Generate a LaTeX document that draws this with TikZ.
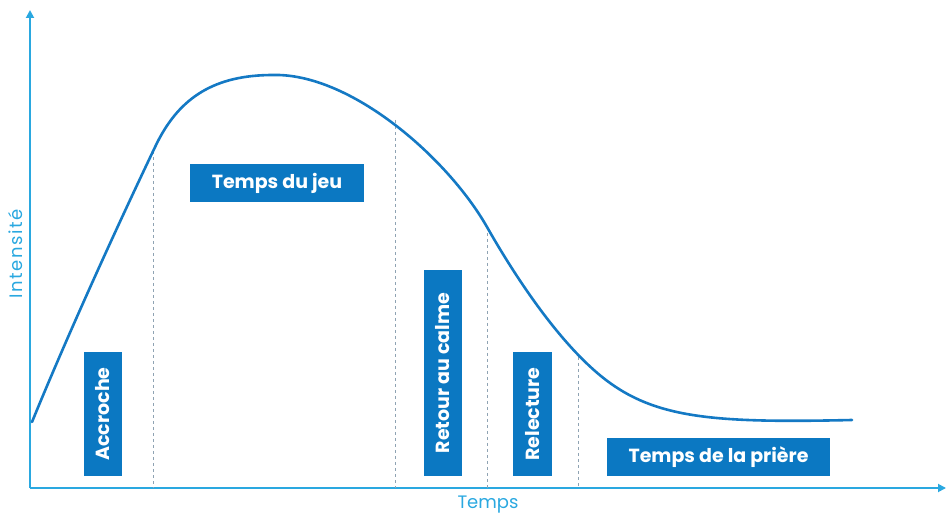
\documentclass[tikz,border=0pt]{standalone}
\usepackage{fontspec}
\setmainfont{Poppins}
\usetikzlibrary{arrows.meta}
\definecolor{axisblue}{HTML}{2AA8E0}
\definecolor{curveblue}{HTML}{1479C4}
\definecolor{boxblue}{HTML}{0B78C2}
\definecolor{dashgray}{HTML}{8FA3B3}
\tikzset{
  axisline/.style={draw=axisblue, line width=1.8pt, -{Triangle[length=8pt,width=8pt]}},
  curveline/.style={draw=curveblue, line width=2.6pt, line cap=round},
  guideline/.style={draw=dashgray, line width=0.6pt, dash pattern=on 3pt off 3pt},
  phasebox/.style={fill=boxblue, text=white, font=\bfseries\fontsize{19}{22}\selectfont, inner sep=0pt, minimum height=38pt, align=center},
  axislabel/.style={text=axisblue, font=\fontsize{18}{20}\selectfont, inner sep=0pt}
}
\begin{document}
\begin{tikzpicture}[x=1pt,y=1pt]
\useasboundingbox (0,0) rectangle (948,517);
% axes
\coordinate (O) at (30,29);
\coordinate (Ytop) at (30,507);
\coordinate (Xend) at (946,29);
\draw[axisline] (O) -- (Ytop);
\draw[axisline] (O) -- (Xend);
\node[axislabel, rotate=90] (ylab) at (15.5,263) {\addfontfeature{LetterSpace=9}Intensité};
\node[axislabel] (xlab) at (488,12) {Temps};
% guide lines
\coordinate (g1t) at (153,366); \coordinate (g1b) at (153,29);
\coordinate (g2t) at (395,397); \coordinate (g2b) at (395,29);
\coordinate (g3t) at (487,290); \coordinate (g3b) at (487,29);
\coordinate (g4t) at (578,160); \coordinate (g4b) at (578,29);
\draw[guideline] (g1t) -- (g1b);
\draw[guideline] (g2t) -- (g2b);
\draw[guideline] (g3t) -- (g3b);
\draw[guideline] (g4t) -- (g4b);
% curve
\coordinate (c0) at (32,95);
\coordinate (c1) at (157,374);
\coordinate (c2) at (273,442);
\coordinate (c3) at (487,290);
\coordinate (c4) at (610,134);
\coordinate (c5) at (852,97);
\draw[curveline] (c0) .. controls (75,200) and (132,322) .. (c1)
  .. controls (180,420) and (215,442) .. (c2)
  .. controls (350,444) and (447,360) .. (c3)
  .. controls (512,246) and (560,170) .. (c4)
  .. controls (660,98) and (720,94) .. (c5);
% boxes
\node[phasebox, rotate=90, minimum width=124pt] (accroche) at (103,103) {Accroche};
\node[phasebox, minimum width=174pt] (jeu) at (277,334) {Temps du jeu};
\node[phasebox, rotate=90, minimum width=206pt] (retour) at (443,144) {Retour au calme};
\node[phasebox, rotate=90, minimum width=124pt, minimum height=39pt] (relecture) at (532.5,103) {Relecture};
\node[phasebox, minimum width=223pt] (priere) at (718.5,60) {Temps de la prière};
\end{tikzpicture}
\end{document}
